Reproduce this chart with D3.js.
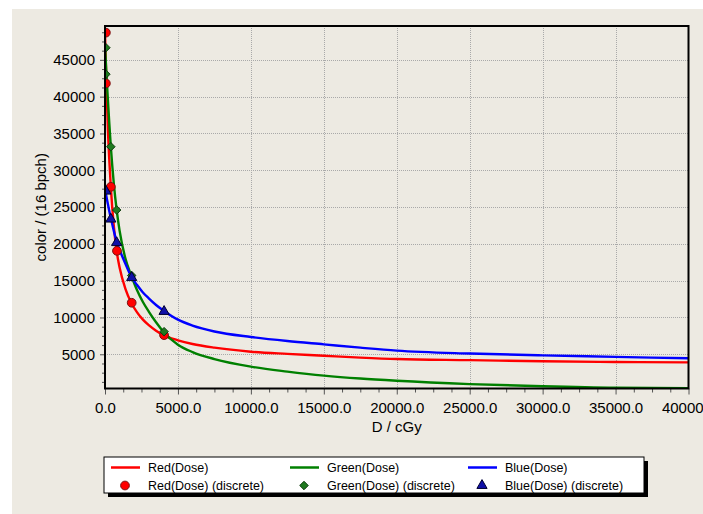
<!DOCTYPE html>
<html>
<head>
<meta charset="utf-8">
<script src="https://cdn.jsdelivr.net/npm/d3@7"></script>
<style>
  html, body { margin: 0; padding: 0; background: #ffffff; }
  svg { display: block; }
  text { font-family: "Liberation Sans", Arial, sans-serif; fill: #000; }
</style>
</head>
<body>
<script>
// ---------- data ----------
const doses      = [0, 50, 100, 200, 300, 400, 600, 800, 1000, 1400, 1800, 2200, 2600, 3000, 3500, 4000, 5000, 6000, 7500, 10000, 12500, 15000, 17500, 20000, 25000, 30000, 35000, 40000];
const redCurve   = [48700, 45000, 41800, 35500, 31200, 27700, 22500, 19000, 16800, 13900, 12000, 10700, 9700, 8950, 8200, 7600, 6900, 6400, 5900, 5350, 5050, 4800, 4550, 4350, 4200, 4050, 3950, 3900];
const greenCurve = [47000, 45000, 43000, 39500, 36200, 33200, 28300, 24600, 21800, 18000, 15700, 13700, 12100, 10800, 9350, 8070, 6300, 5300, 4350, 3320, 2650, 2100, 1700, 1400, 950, 650, 450, 400];
const blueCurve  = [27500, 26950, 26400, 25400, 24400, 23500, 21800, 20300, 19200, 17300, 15550, 14400, 13400, 12600, 11700, 10950, 9700, 8900, 8100, 7350, 6800, 6350, 5900, 5500, 5100, 4850, 4650, 4450];

const redPtsDose   = [60, 60, 400, 820, 1830, 4050];
const redPtsVal    = [48700, 41800, 27750, 19050, 12000, 7600];
const greenPtsDose = [60, 60, 400, 800, 1830, 4050];
const greenPtsVal  = [46650, 43050, 33200, 24600, 15700, 8070];
const bluePtsDose  = [60, 400, 800, 1830, 4050];
const bluePtsVal   = [27300, 23500, 20300, 15550, 10950];

const xTicks = [0, 5000, 10000, 15000, 20000, 25000, 30000, 35000, 40000];
const yTicks = [5000, 10000, 15000, 20000, 25000, 30000, 35000, 40000, 45000];
const legendLabels = ["Red(Dose)", "Green(Dose)", "Blue(Dose)", "Red(Dose) (discrete)", "Green(Dose) (discrete)", "Blue(Dose) (discrete)"];

// ---------- layout ----------
const W = 703, H = 514;
const plot = { left: 105, right: 688.5, top: 26, bottom: 388.5 };
const bg = "#EDEAE2";

const svg = d3.select("body").append("svg").attr("width", W).attr("height", H);
svg.append("rect").attr("width", W).attr("height", H).attr("fill", "#ffffff");
svg.append("rect").attr("x", 12).attr("y", 9).attr("width", W - 12).attr("height", H - 9).attr("fill", bg);

const x = d3.scaleLinear().domain([0, 40000]).range([plot.left, plot.right]);
const y = d3.scaleLinear().domain([350, 49600]).range([plot.bottom, plot.top]);

const xMinor = d3.range(0, 40001, 1250).filter(v => v % 5000 !== 0);
const yMinor = d3.range(1250, 49600, 1250).filter(v => v % 5000 !== 0);

// grid
const grid = svg.append("g").attr("stroke", "#a9a9a9").attr("stroke-width", 1).attr("stroke-dasharray", "1,1");
grid.selectAll(".gx").data(xTicks.filter(v => v > 0 && v < 40000)).enter().append("line")
  .attr("x1", d => Math.round(x(d)) + 0.5).attr("x2", d => Math.round(x(d)) + 0.5)
  .attr("y1", plot.top).attr("y2", plot.bottom);
grid.selectAll(".gy").data(yTicks).enter().append("line")
  .attr("y1", d => Math.round(y(d)) + 0.5).attr("y2", d => Math.round(y(d)) + 0.5)
  .attr("x1", plot.left).attr("x2", plot.right);

// axes
const xAxis = svg.append("g").attr("transform", `translate(0,${plot.bottom})`)
  .call(d3.axisBottom(x).tickValues(xTicks).tickSize(6).tickPadding(8).tickFormat(d3.format(".1f")));
const xAxisMinor = svg.append("g").attr("transform", `translate(0,${plot.bottom})`)
  .call(d3.axisBottom(x).tickValues(xMinor).tickSize(4).tickFormat(""));
const yAxis = svg.append("g").attr("transform", `translate(${plot.left},0)`)
  .call(d3.axisLeft(y).tickValues(yTicks).tickSize(5).tickPadding(5).tickFormat(d3.format("d")));
const yAxisMinor = svg.append("g").attr("transform", `translate(${plot.left},0)`)
  .call(d3.axisLeft(y).tickValues(yMinor).tickSize(3).tickFormat(""));
[xAxis, xAxisMinor, yAxis, yAxisMinor].forEach(g => {
  g.select(".domain").remove();
  g.selectAll(".tick line").attr("stroke", "#555");
  g.selectAll("text").style("font-size", "15px").attr("fill", "#000");
});

svg.append("clipPath").attr("id", "clip").append("rect")
  .attr("x", plot.left).attr("y", plot.top).attr("width", plot.right - plot.left).attr("height", plot.bottom - plot.top);

const line = d3.line().x(d => x(d[0])).y(d => y(d[1])).curve(d3.curveMonotoneX);
const series = [
  { vals: redCurve, color: "#ff0000" },
  { vals: greenCurve, color: "#008000" },
  { vals: blueCurve, color: "#0000ff" }
];
const lines = svg.append("g").attr("clip-path", "url(#clip)");
series.forEach(s => {
  lines.append("path").datum(doses.map((d, i) => [d, s.vals[i]]))
    .attr("fill", "none").attr("stroke", s.color).attr("stroke-width", 2.4).attr("d", line);
});

// markers
const squareDiamond = {
  draw(ctx, size) {
    const r = Math.sqrt(size / 2);
    ctx.moveTo(0, -r); ctx.lineTo(r, 0); ctx.lineTo(0, r); ctx.lineTo(-r, 0); ctx.closePath();
  }
};
const redSym = d3.symbol().type(d3.symbolCircle).size(60);
const greenSym = d3.symbol().type(squareDiamond).size(36);
const blueSym = d3.symbol().type(d3.symbolTriangle).size(45);
const marks = svg.append("g").attr("clip-path", "url(#clip)");
marks.selectAll(".r").data(redPtsDose.map((d, i) => [d, redPtsVal[i]])).enter().append("path")
  .attr("d", redSym).attr("transform", d => `translate(${x(d[0])},${y(d[1])})`)
  .attr("fill", "#ff0000").attr("stroke", "#7a1010").attr("stroke-width", 1);
marks.selectAll(".g").data(greenPtsDose.map((d, i) => [d, greenPtsVal[i]])).enter().append("path")
  .attr("d", greenSym).attr("transform", d => `translate(${x(d[0])},${y(d[1])})`)
  .attr("fill", "#1f7a1f").attr("stroke", "#0c3a0c").attr("stroke-width", 1);
marks.selectAll(".b").data(bluePtsDose.map((d, i) => [d, bluePtsVal[i]])).enter().append("path")
  .attr("d", blueSym).attr("transform", d => `translate(${x(d[0])},${y(d[1]) + 1})`)
  .attr("fill", "#1010a8").attr("stroke", "#000030").attr("stroke-width", 1);

// frame
svg.append("rect").attr("x", plot.left).attr("y", plot.top)
  .attr("width", plot.right - plot.left).attr("height", plot.bottom - plot.top)
  .attr("fill", "none").attr("stroke", "#000").attr("stroke-width", 2);

// axis titles
svg.append("text").attr("x", (plot.left + plot.right) / 2).attr("y", 432)
  .attr("text-anchor", "middle").style("font-size", "15px").text("D / cGy");
svg.append("text").attr("transform", `translate(46,${(plot.top + plot.bottom) / 2}) rotate(-90)`)
  .attr("text-anchor", "middle").style("font-size", "15px").text("color / (16 bpch)");

// legend
const lg = { x: 104, y: 457, w: 540, h: 36 };
svg.append("rect").attr("x", lg.x + 4).attr("y", lg.y + 4).attr("width", lg.w).attr("height", lg.h).attr("fill", "#000");
svg.append("rect").attr("x", lg.x).attr("y", lg.y).attr("width", lg.w).attr("height", lg.h)
  .attr("fill", "#fff").attr("stroke", "#000").attr("stroke-width", 1);
const colX = [111, 290, 468];
const colors = ["#ff0000", "#008000", "#0000ff"];
const syms = [redSym, greenSym, blueSym];
const symFill = ["#ff0000", "#1f7a1f", "#1010a8"];
const symStroke = ["#7a1010", "#0c3a0c", "#000030"];
const rowY = [467.5, 485.5];
colors.forEach((c, i) => {
  svg.append("line").attr("x1", colX[i]).attr("x2", colX[i] + 29).attr("y1", rowY[0]).attr("y2", rowY[0])
    .attr("stroke", c).attr("stroke-width", 2.5);
  svg.append("text").attr("x", colX[i] + 37).attr("y", rowY[0]).attr("dy", "0.35em")
    .style("font-size", "12.5px").text(legendLabels[i]);
  svg.append("path").attr("d", syms[i]).attr("transform", `translate(${colX[i] + 14},${rowY[1]})`)
    .attr("fill", symFill[i]).attr("stroke", symStroke[i]).attr("stroke-width", 1);
  svg.append("text").attr("x", colX[i] + 37).attr("y", rowY[1]).attr("dy", "0.35em")
    .style("font-size", "12.5px").text(legendLabels[i + 3]);
});
</script>
</body>
</html>
